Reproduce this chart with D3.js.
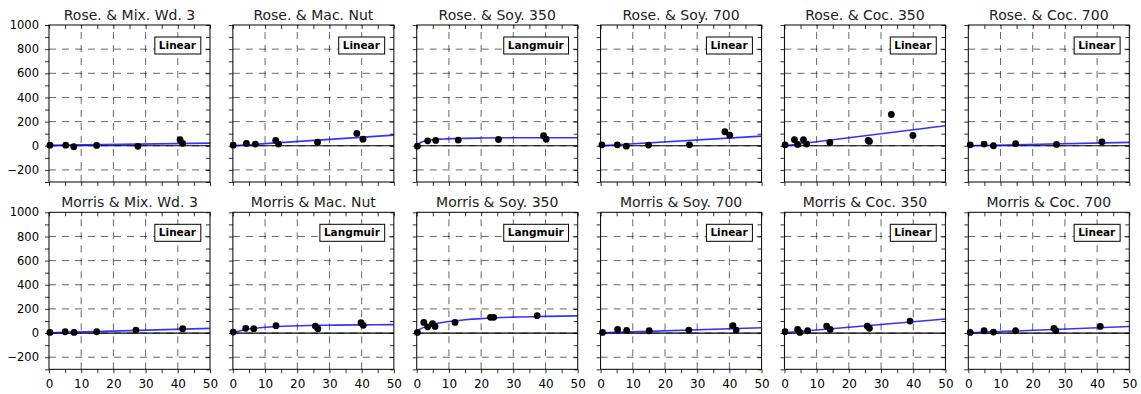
<!DOCTYPE html>
<html>
<head>
<meta charset="utf-8">
<script src="https://cdn.jsdelivr.net/npm/d3@7"></script>
<style>
  body { margin:0; background:#fff; }
  svg { display:block; font-family:"DejaVu Sans", sans-serif; }
</style>
</head>
<body>
<div id="grafica"></div>
<script>
// datos
const panelTitles = ["Rose. & Mix. Wd. 3","Rose. & Mac. Nut","Rose. & Soy. 350","Rose. & Soy. 700","Rose. & Coc. 350","Rose. & Coc. 700",
  "Morris & Mix. Wd. 3","Morris & Mac. Nut","Morris & Soy. 350","Morris & Soy. 700","Morris & Coc. 350","Morris & Coc. 700"];
const fitModels = ["Linear","Linear","Langmuir","Linear","Linear","Linear","Linear","Langmuir","Langmuir","Linear","Linear","Linear"];

const pointX = [
  [0.3,5.2,7.7,14.8,27.6,40.7,41.5],
  [0.1,4.2,7.0,13.3,14.2,26.3,38.5,40.4],
  [0.2,3.4,5.9,12.9,25.4,39.4,40.2],
  [0.4,5.2,8.0,14.9,27.6,38.6,40.1],
  [0.2,3.1,4.1,5.9,6.9,14.1,26.0,26.4,33.2,39.9],
  [0.6,4.9,7.8,14.7,27.4,41.5],
  [0.3,5.0,7.8,14.8,27.0,41.5],
  [0.1,4.0,6.5,13.4,25.6,26.4,39.8,40.5],
  [0.2,2.2,3.4,4.9,5.7,11.9,22.9,23.9,37.4],
  [0.6,5.3,8.1,15.1,27.4,41.1,42.1],
  [0.2,4.1,4.8,7.2,13.1,14.2,25.7,26.4,39.0],
  [0.6,4.9,7.8,14.7,26.6,27.2,41.0]
];
const pointY = [
  [5,5,-8,3,-5,50,20],
  [5,19,14,44,14,30,102,55],
  [-3,41,44,47,52,83,55],
  [8,8,-3,6,8,116,88],
  [8,50,11,50,14,28,44,36,259,86],
  [8,14,0,17,11,33],
  [5,11,5,11,25,36],
  [8,39,36,61,58,36,86,64],
  [5,88,52,77,55,88,130,130,144],
  [5,30,22,19,25,61,25],
  [11,30,5,19,58,30,58,39,99],
  [5,19,8,19,39,19,55]
];
const fitX = [
  [0,50],[0,50],[0,1,2,3,5,8,12,20,30,40,50],[0,50],[0,50],[0,50],
  [0,50],[0,2,5,10,20,30,40,50],[0,2,5,10,15,20,30,40,50],[0,50],[0,50],[0,50]
];
const fitY = [
  [3,22],[0,88],[0,23,35,42,50,56,60,64,66,67,67],[0,80],[0,166],[0,28],
  [2,39],[0,18,34,48,60,65,68,70],[20,45,72,96,110,120,132,138,142],[2,44],[3,116],[2,55]
];
const xTicks = [0,10,20,30,40,50];
const yTicks = [-200,0,200,400,600,800,1000];

const W = 1141, H = 394;
const ancho = 161, alto = 157;
const lefts = d3.range(6).map(i => 49 + i*183.86);
const tops = [25, 212.3];

const svg = d3.select("#grafica").append("svg").attr("width",W).attr("height",H);

const x = d3.scaleLinear().domain([0,50]).range([0,ancho]);
const y = d3.scaleLinear().domain([-300,1000]).range([alto,0]);

panelTitles.forEach(function(t,k){
  const fila = Math.floor(k/6), col = k%6;
  const g = svg.append("g").attr("transform",`translate(${lefts[col]},${tops[fila]})`);

  // rejilla punteada
  g.selectAll(".gx").data(xTicks.slice(1,-1)).enter().append("line")
    .attr("x1",d=>x(d)).attr("x2",d=>x(d)).attr("y1",alto).attr("y2",0)
    .attr("stroke","#000").attr("stroke-width",0.6).attr("stroke-dasharray","7,6");
  g.selectAll(".gy").data(yTicks.slice(0,-1)).enter().append("line")
    .attr("x1",0).attr("x2",ancho).attr("y1",d=>y(d)).attr("y2",d=>y(d))
    .attr("stroke","#000").attr("stroke-width",0.6).attr("stroke-dasharray","7,6");

  // linea en cero
  g.append("line").attr("x1",0).attr("x2",ancho).attr("y1",y(0)).attr("y2",y(0))
    .attr("stroke","#000").attr("stroke-width",1.2);

  // ajuste
  const linea = d3.line().x(d=>x(d[0])).y(d=>y(d[1])).curve(d3.curveMonotoneX);
  g.append("path").datum(d3.zip(fitX[k],fitY[k])).attr("d",linea)
    .attr("fill","none").attr("stroke","#0000ff").attr("stroke-width",1.6).attr("stroke-opacity",0.8);

  // puntos
  g.selectAll(".pt").data(d3.zip(pointX[k],pointY[k])).enter().append("circle")
    .attr("cx",d=>x(d[0])).attr("cy",d=>y(d[1])).attr("r",3.4).attr("fill","#000");

  // ejes
  g.append("g").attr("transform",`translate(0,${alto})`)
    .call(d3.axisBottom(x).tickValues(d3.range(0,51,5)).tickSize(4).tickFormat(""));
  g.append("g").call(d3.axisTop(x).tickValues(d3.range(0,51,5)).tickSize(-4).tickFormat(""));
  g.append("g").call(d3.axisLeft(y).tickValues(d3.range(-300,1001,100)).tickSize(4).tickFormat(""));
  g.append("g").attr("transform",`translate(${ancho},0)`)
    .call(d3.axisRight(y).tickValues(d3.range(-300,1001,100)).tickSize(-4).tickFormat(""));
  g.selectAll(".domain").remove();
  g.selectAll(".tick line").attr("stroke","#000").attr("stroke-width",0.8);

  if(fila==1){
    g.append("g").attr("transform",`translate(0,${alto})`)
      .call(d3.axisBottom(x).tickValues(xTicks).tickSize(0).tickPadding(10))
      .call(s=>s.select(".domain").remove())
      .selectAll("text").attr("font-size",12).attr("fill","#000").attr("font-family","DejaVu Sans");
  }
  if(col==0){
    g.append("g")
      .call(d3.axisLeft(y).tickValues(yTicks).tickSize(0).tickPadding(10).tickFormat(d=>d3.format("")(d).replace("-","\u2212")))
      .call(s=>s.select(".domain").remove())
      .selectAll("text").attr("font-size",11.5).attr("fill","#000").attr("font-family","DejaVu Sans");
  }

  g.append("rect").attr("width",ancho).attr("height",alto).attr("fill","none").attr("stroke","#000").attr("stroke-width",1);

  g.append("text").attr("x",ancho/2).attr("y",-5).attr("text-anchor","middle")
    .attr("font-size",14).attr("fill","#222").text(t);

  // etiqueta del modelo
  const et = g.append("g");
  const txt = et.append("text").attr("x",ancho-14).attr("y",24).attr("text-anchor","end")
    .attr("font-size",10.5).attr("font-weight","bold").attr("fill","#000").text(fitModels[k]);
  const bb = txt.node().getBBox();
  et.insert("rect","text").attr("x",bb.x-4).attr("y",12).attr("width",bb.width+8).attr("height",17)
    .attr("fill","#fff").attr("stroke","#000").attr("stroke-width",1);
});
</script>
</body>
</html>
